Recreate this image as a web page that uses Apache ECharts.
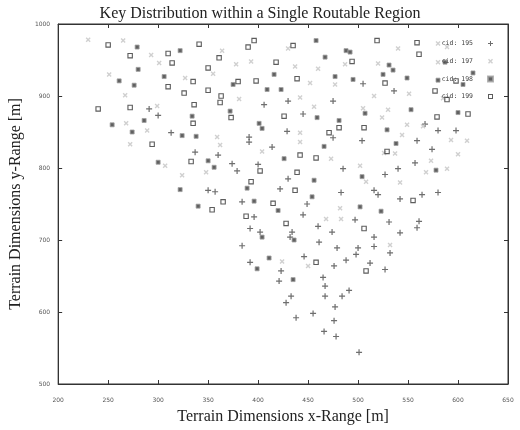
<!DOCTYPE html>
<html>
<head>
<meta charset="utf-8">
<script src="https://cdn.jsdelivr.net/npm/echarts@6/dist/echarts.min.js"></script>
<style>
  html, body { margin: 0; padding: 0; background: #fff; }
  #chart { width: 520px; height: 430px; }
</style>
</head>
<body>
<div id="chart"></div>
<script>
// points, [x, y] in metres
const cid195 = [
  [291, 882], [300, 873], [313, 849], [337, 822], [430, 893], [406, 888], [475, 893],
  [445, 875], [429, 851], [475, 842], [391, 843], [391, 836], [414, 829], [360, 818],
  [374, 806], [400, 805], [379, 796], [430, 785], [422, 771], [350, 769], [357, 767],
  [483, 766], [384, 753], [449, 750], [445, 735], [396, 732], [392, 716], [402, 711],
  [434, 711], [432, 704], [460, 719], [474, 711], [461, 697], [479, 689], [384, 692],
  [446, 677], [476, 664], [392, 669], [423, 657], [465, 648], [421, 643], [467, 636],
  [467, 622], [491, 630], [484, 622], [477, 607], [455, 598], [476, 588], [466, 573],
  [478, 566], [501, 544], [527, 659], [433, 622], [428, 613], [438, 592], [574, 826],
  [485, 799], [527, 791], [540, 799], [557, 807], [516, 769], [520, 763], [542, 757],
  [564, 763], [580, 766], [497, 728], [531, 725], [561, 726], [559, 717], [542, 710],
  [516, 704], [516, 691], [532, 682], [500, 689], [498, 680], [488, 672], [512, 668],
  [505, 917], [536, 907], [567, 861], [580, 852], [598, 852], [504, 838], [559, 838]
];
const cid197 = [
  [230, 978], [265, 977], [293, 957], [301, 946], [251, 930], [327, 925], [267, 901],
  [299, 886], [268, 862], [289, 852], [272, 833], [307, 803], [324, 790], [364, 963],
  [430, 966], [378, 944], [393, 948], [355, 931], [437, 941], [460, 938], [477, 916],
  [452, 918], [381, 896], [442, 898], [456, 885], [442, 849], [359, 843], [362, 832],
  [442, 836], [404, 823], [473, 813], [348, 794], [482, 744], [468, 729], [424, 670],
  [450, 664], [526, 821], [537, 820], [600, 819], [502, 803], [508, 781], [573, 810],
  [568, 794], [589, 799], [542, 780], [483, 729], [532, 693], [540, 966], [580, 973],
  [589, 968], [487, 944], [520, 945], [516, 900], [551, 903], [585, 897], [505, 883],
  [530, 881], [524, 870], [544, 846], [549, 860], [565, 858], [593, 839], [609, 838],
  [580, 947]
];
const cid198 = [
  [279, 968], [322, 963], [280, 937], [261, 921], [276, 915], [306, 927], [286, 866],
  [334, 872], [254, 860], [274, 850], [324, 845], [338, 844], [300, 808], [322, 770],
  [340, 747], [458, 977], [467, 954], [416, 930], [477, 927], [375, 916], [409, 909],
  [423, 909], [372, 879], [459, 870], [481, 866], [401, 862], [404, 855], [466, 830],
  [426, 813], [350, 810], [356, 801], [456, 783], [389, 772], [454, 760], [396, 754],
  [420, 741], [404, 704], [436, 700], [411, 675], [399, 660], [435, 645], [504, 788],
  [578, 797], [502, 746], [523, 740], [488, 963], [492, 961], [531, 943], [535, 936],
  [525, 930], [495, 923], [549, 925], [580, 922], [587, 947], [615, 932], [605, 916],
  [507, 876], [553, 881], [600, 877], [529, 853], [538, 834]
];
const cid199 = [
  [250, 971], [272, 956], [310, 959], [341, 972], [314, 946], [310, 913], [335, 920],
  [326, 904], [240, 882], [272, 884], [336, 888], [335, 862], [294, 833], [333, 809],
  [396, 977], [390, 968], [361, 953], [435, 970], [418, 947], [350, 939], [439, 924],
  [380, 920], [398, 921], [350, 908], [363, 900], [362, 891], [373, 870], [426, 872],
  [481, 856], [471, 849], [442, 818], [458, 814], [402, 796], [439, 794], [393, 781],
  [437, 769], [354, 742], [365, 753], [415, 751], [388, 733], [428, 723], [458, 669],
  [529, 823], [555, 755], [506, 716], [508, 657], [519, 977], [559, 974], [561, 958],
  [494, 948], [527, 918], [577, 907], [589, 895], [598, 921], [610, 875], [579, 871],
  [506, 856]
];
const seriesNames = ["cid: 195", "cid: 197", "cid: 198", "cid: 199"];

const serif = "'Liberation Serif', 'DejaVu Serif', serif";

// marker shapes, roughly like gnuplot's point types
const plusPath = "path://M2,0H3V2H5V3H3V5H2V3H0V2H2Z";
const crossPath = "path://M0,1L1,0L2.5,1.5L4,0L5,1L3.5,2.5L5,4L4,5L2.5,3.5L1,5L0,4L1.5,2.5Z";
const starPath = "path://M0,0H5V5H0Z";
const boxPath = "path://M0,0H5V5H0ZM1,1V4H4V1Z";

const chart = echarts.init(document.getElementById("chart"));

const tickLabel = {
  fontSize: 6,
  color: "#555",
  fontFamily: "'DejaVu Sans', sans-serif",
  formatter: (v) => String(v)
};

const option = {
  animation: false,
  backgroundColor: "#fff",
  title: {
    text: "Key Distribution within a Single Routable Region",
    left: "center",
    top: 1,
    textStyle: { fontFamily: serif, fontSize: 16, fontWeight: "normal", color: "#222" }
  },
  legend: {
    orient: "vertical",
    right: 21,
    top: 35,
    align: "right",
    itemWidth: 25,
    itemHeight: 5,
    itemGap: 10.7,
    data: seriesNames,
    textStyle: {
      fontSize: 6.5,
      lineHeight: 5,
      color: "#444",
      fontFamily: "'DejaVu Sans Mono', monospace"
    }
  },
  grid: {
    left: 53,
    right: 12,
    top: 24,
    bottom: 42,
    show: true,
    borderColor: "#333",
    borderWidth: 1
  },
  xAxis: [
    {
      type: "value",
      min: 200,
      max: 650,
      interval: 50,
      name: "Terrain Dimensions x-Range [m]",
      nameLocation: "middle",
      nameGap: 25,
      nameTextStyle: { fontFamily: serif, fontSize: 16, color: "#222" },
      axisLine: { show: true, lineStyle: { color: "#333", width: 1 } },
      axisTick: { inside: true, length: 4, lineStyle: { color: "#333" } },
      axisLabel: Object.assign({ margin: 13 }, tickLabel),
      splitLine: { show: false }
    },
    {
      type: "value",
      position: "top",
      min: 200,
      max: 650,
      interval: 50,
      axisLine: { show: true, lineStyle: { color: "#333", width: 1 } },
      axisTick: { inside: true, length: 4, lineStyle: { color: "#333" } },
      axisLabel: { show: false },
      splitLine: { show: false }
    }
  ],
  yAxis: [
    {
      type: "value",
      min: 500,
      max: 1000,
      interval: 100,
      name: "Terrain Dimensions y-Range [m]",
      nameLocation: "middle",
      nameGap: 34,
      nameTextStyle: { fontFamily: serif, fontSize: 16, color: "#222" },
      axisLine: { show: true, lineStyle: { color: "#333", width: 1 } },
      axisTick: { inside: true, length: 4, lineStyle: { color: "#333" } },
      axisLabel: Object.assign({ margin: 8 }, tickLabel),
      splitLine: { show: false }
    },
    {
      type: "value",
      position: "right",
      min: 500,
      max: 1000,
      interval: 100,
      axisLine: { show: true, lineStyle: { color: "#333", width: 1 } },
      axisTick: { inside: true, length: 4, lineStyle: { color: "#333" } },
      axisLabel: { show: false },
      splitLine: { show: false }
    }
  ],
  series: [
    {
      name: seriesNames[0],
      type: "scatter",
      data: cid195,
      symbol: plusPath,
      symbolSize: 6,
      itemStyle: { color: "#4a4a4a" }
    },
    {
      name: seriesNames[1],
      type: "scatter",
      data: cid197,
      symbol: crossPath,
      symbolSize: 5,
      itemStyle: { color: "#c4c4c4" }
    },
    {
      name: seriesNames[2],
      type: "scatter",
      data: cid198,
      symbol: starPath,
      symbolSize: 4,
      itemStyle: { color: "#3a3a3a", borderColor: "#a0a0a0", borderWidth: 1 }
    },
    {
      name: seriesNames[3],
      type: "scatter",
      data: cid199,
      symbol: boxPath,
      symbolSize: 5.5,
      itemStyle: { color: "#333" }
    }
  ]
};

chart.setOption(option);
</script>
</body>
</html>
